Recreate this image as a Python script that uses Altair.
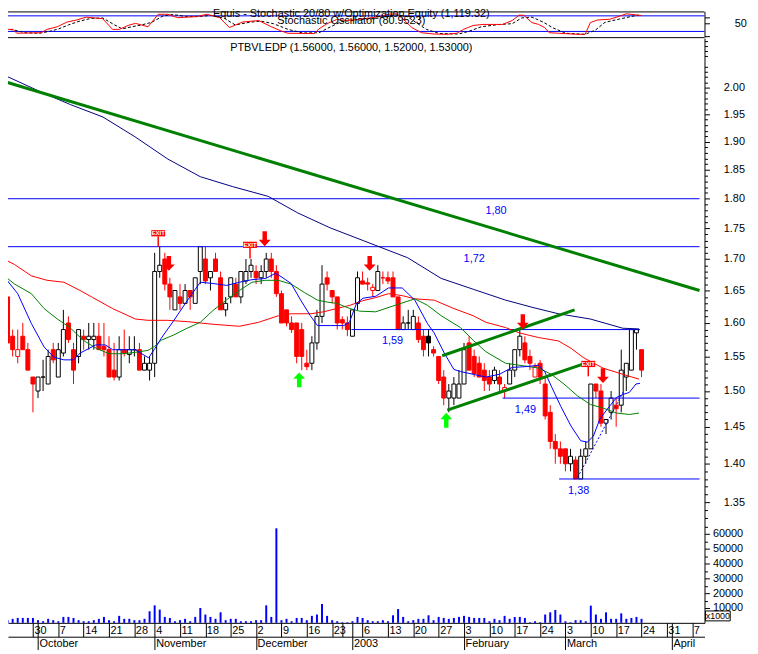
import json
import numpy as np
import pandas as pd
import altair as alt

# ---------------- data ----------------
# trading-day index 0 = 23 Sep 2002 ... 125 = 24 Mar 2003
OPEN = [1.64,1.58,1.55,1.58,1.56,1.52,1.50,1.52,1.51,1.56,
        1.52,1.555,1.60,1.56,1.55,1.58,1.575,1.575,1.58,1.565,
        1.56,1.53,1.52,1.56,1.553,1.56,1.56,1.53,1.53,1.54,
        1.68,1.70,1.66,1.62,1.64,1.63,1.65,1.63,1.68,1.70,
        1.67,1.70,1.67,1.62,1.64,1.66,1.64,1.665,1.68,1.68,
        1.67,1.68,1.70,1.68,1.645,1.62,1.60,1.60,1.59,1.54,
        1.54,1.57,1.61,1.67,1.65,1.64,1.605,1.60,1.58,1.63,
        1.665,1.662,1.65,1.65,1.67,1.67,1.67,1.64,1.59,1.60,
        1.59,1.60,1.58,1.58,1.56,1.55,1.52,1.49,1.49,1.49,
        1.51,1.57,1.55,1.54,1.53,1.52,1.515,1.52,1.50,1.51,
        1.53,1.56,1.57,1.55,1.52,1.54,1.51,1.47,1.43,1.42,
        1.42,1.40,1.405,1.38,1.41,1.42,1.51,1.50,1.455,1.47,
        1.48,1.48,1.52,1.53,1.585,1.56]
HIGH = [1.64,1.59,1.59,1.60,1.57,1.52,1.52,1.545,1.56,1.57,
        1.57,1.62,1.61,1.57,1.59,1.59,1.60,1.60,1.60,1.60,
        1.58,1.57,1.58,1.59,1.58,1.58,1.57,1.55,1.55,1.71,
        1.72,1.71,1.67,1.65,1.66,1.66,1.65,1.67,1.72,1.72,
        1.68,1.71,1.68,1.64,1.67,1.67,1.68,1.70,1.70,1.69,
        1.69,1.71,1.71,1.69,1.65,1.62,1.61,1.60,1.60,1.56,
        1.58,1.62,1.69,1.68,1.65,1.64,1.61,1.61,1.62,1.68,
        1.68,1.67,1.66,1.69,1.68,1.68,1.68,1.64,1.61,1.62,
        1.62,1.61,1.59,1.59,1.565,1.55,1.53,1.51,1.52,1.53,
        1.57,1.58,1.56,1.55,1.54,1.53,1.535,1.53,1.51,1.54,
        1.56,1.59,1.58,1.56,1.54,1.545,1.52,1.48,1.44,1.43,
        1.42,1.42,1.41,1.42,1.43,1.51,1.51,1.51,1.46,1.50,
        1.49,1.56,1.54,1.59,1.59,1.56]
LOW = [1.57,1.55,1.54,1.56,1.53,1.47,1.49,1.50,1.51,1.54,
       1.52,1.55,1.57,1.51,1.54,1.56,1.56,1.56,1.56,1.55,
       1.52,1.515,1.515,1.55,1.54,1.55,1.53,1.53,1.515,1.52,
       1.67,1.65,1.62,1.62,1.62,1.63,1.62,1.63,1.66,1.66,
       1.65,1.68,1.62,1.61,1.63,1.64,1.63,1.66,1.67,1.66,
       1.66,1.67,1.67,1.64,1.60,1.595,1.585,1.54,1.53,1.53,
       1.53,1.56,1.60,1.65,1.63,1.59,1.59,1.58,1.58,1.62,
       1.66,1.65,1.64,1.65,1.66,1.66,1.64,1.59,1.59,1.59,
       1.59,1.57,1.55,1.55,1.55,1.51,1.48,1.47,1.48,1.49,
       1.51,1.53,1.52,1.52,1.50,1.50,1.51,1.50,1.49,1.51,
       1.52,1.55,1.54,1.53,1.52,1.51,1.46,1.42,1.40,1.40,
       1.39,1.39,1.38,1.38,1.40,1.42,1.49,1.45,1.44,1.46,
       1.45,1.47,1.50,1.53,1.56,1.52]
CLOSE = [1.57,1.56,1.56,1.56,1.53,1.51,1.52,1.52,1.55,1.545,
         1.56,1.59,1.575,1.53,1.59,1.575,1.58,1.58,1.56,1.56,
         1.52,1.52,1.56,1.555,1.56,1.56,1.53,1.54,1.54,1.68,
         1.69,1.66,1.64,1.65,1.63,1.65,1.64,1.67,1.72,1.665,
         1.68,1.68,1.62,1.63,1.67,1.64,1.68,1.68,1.69,1.67,
         1.68,1.70,1.68,1.645,1.60,1.60,1.59,1.55,1.55,1.535,
         1.57,1.61,1.66,1.66,1.64,1.60,1.60,1.59,1.62,1.67,
         1.66,1.66,1.655,1.68,1.67,1.665,1.64,1.59,1.60,1.60,
         1.61,1.575,1.56,1.57,1.555,1.515,1.49,1.50,1.51,1.51,
         1.56,1.53,1.525,1.52,1.515,1.51,1.53,1.51,1.505,1.53,
         1.56,1.58,1.545,1.54,1.535,1.52,1.465,1.43,1.42,1.41,
         1.40,1.41,1.38,1.41,1.42,1.51,1.50,1.455,1.46,1.49,
         1.475,1.53,1.54,1.59,1.59,1.53]
CANDLE_COLOR = ("rrrrrrkkkr" "kkrrkrkkrr" "rrkrkkrkkk" "krrkrkrkkr" "krrkkrkkkr"
                "kkrrrrrrrr" "kkkrrrrrkk" "rrrkrrrrkk" "krrkrrrkkk" "krrrrrkrrk"
                "kkrrrrrrrr" "rkrkkkrrkk" "rkkkkr")
VOLUME = [1800,2700,3300,3300,3300,3300,1800,1100,2700,1800,
          1100,4000,4000,3300,1800,1100,1100,1800,2700,4000,
          1800,1100,4700,2700,2700,1800,1800,2700,7800,11800,
          8900,4000,3300,1100,1800,2700,1100,4000,10000,5600,
          4000,2700,7100,1800,2700,2700,1100,1100,1100,1800,
          1800,11800,4000,63700,1800,2700,1100,3300,3300,1800,
          4700,5600,12700,4700,1800,1100,400,400,1100,4000,
          3300,1800,1100,1100,1800,1100,5100,9300,4000,1100,
          1800,2700,2700,5100,1800,4000,3300,2700,3300,4000,
          4700,4000,3300,3300,3300,1100,2700,1800,4700,2700,
          4000,4000,3300,400,1100,400,5600,7100,8700,5600,
          1100,400,1800,1800,1100,11600,5600,2700,7100,2700,
          2700,6400,2700,3300,4000,2700]

# moving averages (index, price)
MA_NAVY_I = [-0.5,7.2,12.4,18.8,25.1,31.6,38.0,44.3,51.4,57.2,63.6,70.1,72.6,78.9,85.5,91.8,98.2,103.4,108.6,114.9,121.3,124.5]
MA_NAVY_P = [2.023,1.989,1.968,1.945,1.909,1.869,1.838,1.821,1.804,1.776,1.751,1.730,1.722,1.702,1.669,1.652,1.635,1.624,1.614,1.606,1.592,1.591]
MA_RED_I = [-0.5,1.4,4.7,7.8,11.1,14.3,16.8,20.7,25.2,27.7,31.6,35.4,40.5,45.7,49.5,53.4,55.9,59.8,62.3,67.5,70.0,72.6,75.1,77.8,80.3,84.1,88.0,91.8,94.3,98.2,100.9,104.7,108.6,111.1,113.6,117.4,121.3,124.5]
MA_RED_P = [1.699,1.691,1.673,1.666,1.663,1.650,1.639,1.622,1.606,1.604,1.604,1.602,1.598,1.595,1.601,1.611,1.614,1.614,1.617,1.627,1.634,1.639,1.645,1.642,1.637,1.635,1.622,1.611,1.601,1.593,1.585,1.578,1.573,1.562,1.548,1.533,1.524,1.517]
MA_GREEN_I = [-0.5,1.4,4.7,7.2,9.8,12.3,14.9,17.5,20.0,22.6,25.2,27.7,29.0,30.3,32.8,35.4,38.0,40.5,43.1,45.7,48.2,50.8,53.4,55.9,58.5,61.1,63.0,64.9,67.5,69.4,72.6,76.4,80.3,82.8,85.5,89.3,91.8,94.3,98.2,102.0,104.7,107.2,109.7,112.4,114.9,117.4,120.1,122.6,124.5]
MA_GREEN_P = [1.672,1.660,1.645,1.622,1.606,1.593,1.574,1.562,1.554,1.554,1.556,1.559,1.565,1.574,1.582,1.592,1.601,1.619,1.635,1.650,1.663,1.666,1.666,1.660,1.647,1.635,1.632,1.630,1.622,1.618,1.617,1.627,1.637,1.627,1.611,1.593,1.574,1.557,1.540,1.536,1.533,1.524,1.510,1.493,1.481,1.476,1.469,1.467,1.469]
MA_BLUE_I = [-0.5,2.0,4.7,7.2,9.1,11.1,13.0,14.3,17.4,19.3,20.7,25.1,27.8,28.9,30.3,32.8,35.5,38.0,40.5,43.2,45.7,48.2,50.9,52.8,53.9,55.9,57.8,59.7,61.1,63.6,66.3,67.4,68.8,70.1,72.6,75.1,77.8,80.3,82.8,84.1,86.1,88.0,89.3,91.8,94.3,97.0,99.5,102.0,104.7,105.9,107.2,109.1,111.1,113.0,114.3,115.5,116.8,118.2,120.1,121.3,122.6,123.9,124.7]
MA_BLUE_P = [1.670,1.645,1.599,1.564,1.549,1.545,1.545,1.555,1.567,1.567,1.560,1.560,1.548,1.560,1.577,1.604,1.635,1.663,1.661,1.658,1.663,1.667,1.669,1.677,1.672,1.661,1.635,1.611,1.596,1.596,1.596,1.601,1.630,1.638,1.641,1.654,1.654,1.635,1.599,1.585,1.555,1.531,1.528,1.524,1.520,1.524,1.534,1.535,1.537,1.528,1.507,1.478,1.451,1.431,1.429,1.437,1.461,1.474,1.491,1.495,1.498,1.510,1.511]

# stochastic oscillator (%K red, %D black dashed)
K_I = [-0.5,1.1,1.8,6.6,7.8,9.8,11.7,13.6,15.5,18.75,20.7,22.0,23.9,25.2,27.7,29.7,31.6,33.5,37.3,39.3,41.8,43.75,46.3,49.5,51.8,53.9,55.3,60.5,61.4,63.0,64.9,66.8,69.1,72.6,75.1,76.8,78.4,79.7,81.6,84.1,86.6,88.6,89.9,91.8,93.75,97.6,99.5,100.9,101.8,103.4,104.7,105.9,106.8,108.6,112.4,113.9,114.9,116.3,118.75,120.7,122.0,125.0]
K_V = [28,28,13,15,28,38,56,64,75,69,28,28,44,51,38,86,86,73,77,86,73,35,56,62,40,22,13,12,30,50,66,62,66,75,86,88,60,35,15,10,9,13,28,43,47,47,62,83,82,54,47,35,15,13,9,9,54,64,67,79,88,81]
D_I = [-0.5,1.4,3.4,6.25,8.2,10.1,12.0,13.9,16.4,18.75,21.1,22.6,24.5,26.4,28.4,30.7,32.6,35.1,38.0,40.3,42.8,44.9,47.6,49.9,52.4,55.3,58.2,61.4,63.9,65.9,68.75,73.6,76.4,78.75,80.7,82.6,85.1,88.9,90.9,93.4,96.6,99.5,101.4,103.4,105.7,107.6,110.1,113.9,115.9,117.8,120.7,123.6,124.5]
D_V = [30,25,15,13,20,30,45,58,70,72,45,30,38,45,55,80,85,78,78,82,70,45,55,60,50,28,14,15,40,58,64,72,84,78,52,28,12,10,20,38,46,50,72,75,55,33,13,9,25,55,68,80,83]

# horizontal support / resistance lines
SUPPORT_LEVELS = [1.80, 1.72, 1.59, 1.49, 1.38]
SUPPORT_START = [-0.5, -0.5, 67.8, 97.6, 108.75]
SUPPORT_END = [136.44, 136.44, 124.7, 136.44, 136.44]
SUPPORT_TEXT = ["1,80", "1,72", "1,59", "1,49", "1,38"]
SUPPORT_TEXT_I = [96.3, 92.0, 75.9, 102.1, 112.6]

# green trend lines (two points each)
TREND_ID = ["a", "a", "b", "b", "c", "c"]
TREND_I = [-0.48, 136.44, 85.7, 111.8, 86.7, 113.6]
TREND_P = [2.011, 1.650, 1.551, 1.620, 1.473, 1.539]
DOTTED_I = [112.4, 121.5]
DOTTED_P = [1.382, 1.500]

# signals
ARROW_DOWN_I = [31.8, 50.7, 71.4, 101.6, 117.4]
ARROW_DOWN_P = [1.693, 1.733, 1.693, 1.602, 1.522]
ARROW_UP_I = [57.5, 86.5]
ARROW_UP_P = [1.516, 1.459]
EXIT_I = [29.7, 47.8, 114.5]
EXIT_P = [1.742, 1.723, 1.539]
EXIT_STEM_LO = [1.720, 1.701, 1.521]
EXIT_STEM_HI = [1.737, 1.718, 1.536]

# date axis
MONDAY_IDX = [0,5,10,15,20,25,29,34,39,44,49,54,59,64,66,70,75,80,85,90,95,100,105,110,115,120,125,130,135]
MONDAY_LBL = ["23","30","7","14","21","28","4","11","18","25","2","9","16","23","","6","13","20","27","3","10","17","24","3","10","17","24","31","7"]
MONTH_IDX = [6, 29, 49, 68, 90, 110, 131]
MONTH_LBL = ["October", "November", "December", "2003", "February", "March", "April"]

PRICE_TICKS = [1.35,1.40,1.45,1.50,1.55,1.60,1.65,1.70,1.75,1.80,1.85,1.90,1.95,2.00]
VOL_TICKS = [10000,20000,30000,40000,50000,60000]

TITLE_TOP = "Equis - Stochastic 20/80 w/Optimization Equity (1,119.32)"
TITLE_STOCH = "Stochastic Oscillator (80.9523)"
TITLE_PRICE = "PTBVLEDP (1.56000, 1.56000, 1.52000, 1.53000)"

# ---------------- chart ----------------
FONT = "Liberation Sans"
RED, BLACK, BLUE, NAVY, GREEN, LIME = "#FF0000", "#000000", "#0000FF", "#000080", "#008000", "#00FF00"
X_DOMAIN = [1.0577, 136.44]
PRICE_DOMAIN = [1.3299, 2.0960]
STOCH_DOMAIN = [-2, 97]
VOL_DOMAIN = [0, 70667]
W, H = 704, 618


def xs():
    return alt.Scale(domain=X_DOMAIN, nice=False, zero=False)


def ps():
    return alt.Scale(type="log", domain=PRICE_DOMAIN, range=[512, 27], nice=False)


def ss():
    return alt.Scale(domain=STOCH_DOMAIN, range=[26, 0], nice=False, zero=False)


def vsc():
    return alt.Scale(domain=VOL_DOMAIN, range=[618, 512], nice=False, zero=False)


def X(field="i", axis=None):
    return alt.X(f"{field}:Q", scale=xs(), axis=axis)


def PY(field="p", axis=None):
    return alt.Y(f"{field}:Q", scale=ps(), axis=axis)


one = pd.DataFrame({"k": [0]})
layers = []

# panel separators of the stochastic pane
layers.append(alt.Chart(one).mark_rule(color=BLACK, strokeWidth=1).encode(
    x=alt.value(0), x2=alt.value(W), y=alt.value(0.5)))
layers.append(alt.Chart(one).mark_rule(color=BLACK, strokeWidth=1).encode(
    x=alt.value(0), x2=alt.value(W), y=alt.value(26.5)))

# stochastic
layers.append(alt.Chart(pd.DataFrame({"v": [80, 20]})).mark_rule(color=BLUE, strokeWidth=1).encode(
    y=alt.Y("v:Q", scale=ss(), axis=None)))
layers.append(alt.Chart(pd.DataFrame({"i": D_I, "v": D_V})).mark_line(
    color=BLACK, strokeWidth=1, strokeDash=[3, 2]).encode(
    x=X(), y=alt.Y("v:Q", scale=ss(), axis=None)))
stoch_axis = alt.Axis(orient="right", values=[0, 50, 75], labelExpr="datum.value == 50 ? '50' : ''",
                      tickSize=5, labelPadding=25, title=None, grid=False)
layers.append(alt.Chart(pd.DataFrame({"i": K_I, "v": K_V})).mark_line(color=RED, strokeWidth=1).encode(
    x=X(), y=alt.Y("v:Q", scale=ss(), axis=stoch_axis)))

# candles
cdf = pd.DataFrame({"i": list(range(len(OPEN))), "o": OPEN, "h": HIGH, "l": LOW, "c": CLOSE,
                    "col": list(CANDLE_COLOR)})
cdf["stroke"] = cdf["col"].map({"r": RED, "k": BLACK})
cdf["fill"] = np.where(cdf["c"] > cdf["o"], "#FFFFFF", cdf["stroke"])

price_axis = alt.Axis(orient="right", values=PRICE_TICKS, format=".2f", tickSize=5, labelPadding=14,
                      title=None, grid=False)
layers.append(alt.Chart(cdf).mark_rule(strokeWidth=1).encode(
    x=X(), y=PY("l", price_axis), y2="h:Q", color=alt.Color("stroke:N", scale=None)))
layers.append(alt.Chart(cdf).mark_bar(size=4, strokeWidth=1).encode(
    x=X(), y=PY("o"), y2="c:Q",
    fill=alt.Fill("fill:N", scale=None), stroke=alt.Stroke("stroke:N", scale=None)))

# minor price ticks
minor = [round(1.33 + 0.01 * k, 2) for k in range(77)]
minor = [m for m in minor if round(m * 100) % 5 != 0]
layers.append(alt.Chart(pd.DataFrame({"p": [1.5]})).mark_point(opacity=0).encode(
    y=PY("p", alt.Axis(orient="right", values=minor, labels=False, tickSize=3, domain=False,
                       title=None, grid=False))))

# support / resistance lines and their labels
layers.append(alt.Chart(pd.DataFrame({"p": SUPPORT_LEVELS, "x0": SUPPORT_START, "x1": SUPPORT_END}))
              .mark_rule(color=BLUE, strokeWidth=1).encode(x=X("x0"), x2="x1:Q", y=PY()))
layers.append(alt.Chart(pd.DataFrame({"i": SUPPORT_TEXT_I, "p": SUPPORT_LEVELS, "t": SUPPORT_TEXT}))
              .mark_text(color=BLUE, fontSize=11, dy=12, baseline="middle", font=FONT)
              .encode(x=X(), y=PY(), text="t:N"))

# moving averages
for mi, mp, col in [(MA_NAVY_I, MA_NAVY_P, NAVY), (MA_RED_I, MA_RED_P, RED),
                    (MA_GREEN_I, MA_GREEN_P, GREEN), (MA_BLUE_I, MA_BLUE_P, BLUE)]:
    layers.append(alt.Chart(pd.DataFrame({"i": mi, "p": mp})).mark_line(color=col, strokeWidth=1)
                  .encode(x=X(), y=PY()))

# trend lines
layers.append(alt.Chart(pd.DataFrame({"id": TREND_ID, "i": TREND_I, "p": TREND_P}))
              .mark_line(color=GREEN, strokeWidth=3).encode(x=X(), y=PY(), detail="id:N"))
layers.append(alt.Chart(pd.DataFrame({"i": DOTTED_I, "p": DOTTED_P}))
              .mark_line(color=BLUE, strokeWidth=1, strokeDash=[2, 2]).encode(x=X(), y=PY()))

# signal arrows
DOWN = "M -0.3 -1 L 0.3 -1 L 0.3 0.15 L 0.8 0.15 L 0 1 L -0.8 0.15 L -0.3 0.15 Z"
UP = "M 0 -1 L 0.8 -0.15 L 0.3 -0.15 L 0.3 1 L -0.3 1 L -0.3 -0.15 L -0.8 -0.15 Z"
BOX = "M -1 -0.45 L 1 -0.45 L 1 0.45 L -1 0.45 Z"
layers.append(alt.Chart(pd.DataFrame({"i": ARROW_DOWN_I, "p": ARROW_DOWN_P}))
              .mark_point(shape=DOWN, size=225, filled=True, opacity=1, color=RED, strokeWidth=0)
              .encode(x=X(), y=PY()))
layers.append(alt.Chart(pd.DataFrame({"i": ARROW_UP_I, "p": ARROW_UP_P}))
              .mark_point(shape=UP, size=225, filled=True, opacity=1, color=LIME, strokeWidth=0)
              .encode(x=X(), y=PY()))
edf = pd.DataFrame({"i": EXIT_I, "p": EXIT_P, "lo": EXIT_STEM_LO, "hi": EXIT_STEM_HI})
layers.append(alt.Chart(edf).mark_rule(color=RED, strokeWidth=1.5).encode(x=X(), y=PY("lo"), y2="hi:Q"))
layers.append(alt.Chart(edf).mark_point(shape=BOX, size=196, filled=True, opacity=1, color=RED, strokeWidth=0)
              .encode(x=X(), y=PY()))
layers.append(alt.Chart(edf).mark_text(text="EXIT", fontSize=6, fontWeight="bold", color="white",
                                       baseline="middle", font=FONT).encode(x=X(), y=PY()))

# volume with the day axis
a_vals = sorted(set(MONDAY_IDX) | set(MONTH_IDX))
a_lbls = [MONDAY_LBL[MONDAY_IDX.index(v)] if v in MONDAY_IDX else "" for v in a_vals]
day_axis = alt.Axis(orient="bottom", values=a_vals,
                    labelExpr=f"{json.dumps(a_lbls)}[indexof({json.dumps(a_vals)}, datum.value)]",
                    tickSize=14, labelAlign="left", labelBaseline="middle", labelPadding=-6,
                    labelOffset=1, labelOverlap=False, labelFlush=False, title=None, grid=False)
vol_axis = alt.Axis(orient="right", values=VOL_TICKS, format="d", tickSize=5, labelPadding=3,
                    title=None, grid=False)
layers.append(alt.Chart(pd.DataFrame({"i": list(range(len(VOLUME))), "v": VOLUME}))
              .mark_bar(size=2, color=BLUE)
              .encode(x=X("i", day_axis), y=alt.Y("v:Q", scale=vsc(), axis=vol_axis)))
layers.append(alt.Chart(pd.DataFrame({"v": [5000]})).mark_point(opacity=0).encode(
    y=alt.Y("v:Q", scale=vsc(), axis=alt.Axis(orient="right", values=[5000, 15000, 25000, 35000, 45000, 55000, 65000],
                                               labels=False, tickSize=3, domain=False, title=None, grid=False))))

# month axis
month_axis = alt.Axis(orient="bottom", offset=14, values=MONTH_IDX,
                      labelExpr=f"{json.dumps(MONTH_LBL)}[indexof({json.dumps(MONTH_IDX)}, datum.value)]",
                      tickSize=13, labelAlign="left", labelBaseline="middle", labelPadding=-6,
                      labelOffset=1, labelOverlap=False, labelFlush=False, title=None, grid=False)
layers.append(alt.Chart(pd.DataFrame({"i": MONTH_IDX})).mark_point(opacity=0).encode(
    x=X("i", month_axis)))

# titles
for txt, yy in [(TITLE_TOP, 2.5), (TITLE_STOCH, 10), (TITLE_PRICE, 37)]:
    layers.append(alt.Chart(pd.DataFrame({"t": [txt]})).mark_text(
        fontSize=11, font=FONT, color=BLACK, align="center", baseline="middle").encode(
        text="t:N", x=alt.value(347), y=alt.value(yy)))

# x1000 box
layers.append(alt.Chart(one).mark_rect(fill="white", stroke=BLACK, strokeWidth=1).encode(
    x=alt.value(705), x2=alt.value(730), y=alt.value(606), y2=alt.value(616)))
layers.append(alt.Chart(pd.DataFrame({"t": ["x1000"]})).mark_text(
    fontSize=9, font=FONT, color=BLACK, align="center", baseline="middle").encode(
    text="t:N", x=alt.value(717.5), y=alt.value(611)))

chart = (alt.layer(*layers)
         .resolve_scale(y="independent")
         .resolve_axis(x="independent", y="independent")
         .properties(width=W, height=H, autosize=alt.AutoSizeParams(type="none"),
                     padding={"left": 0, "top": 0, "right": 46, "bottom": 26},
                     background="white")
         .configure_view(stroke=None)
         .configure_axis(labelFont=FONT, labelFontSize=11, labelColor=BLACK, domainColor=BLACK,
                         tickColor=BLACK, domainWidth=1, tickWidth=1))

chart.save("out.html", embed_options={"renderer": "svg", "actions": False})
